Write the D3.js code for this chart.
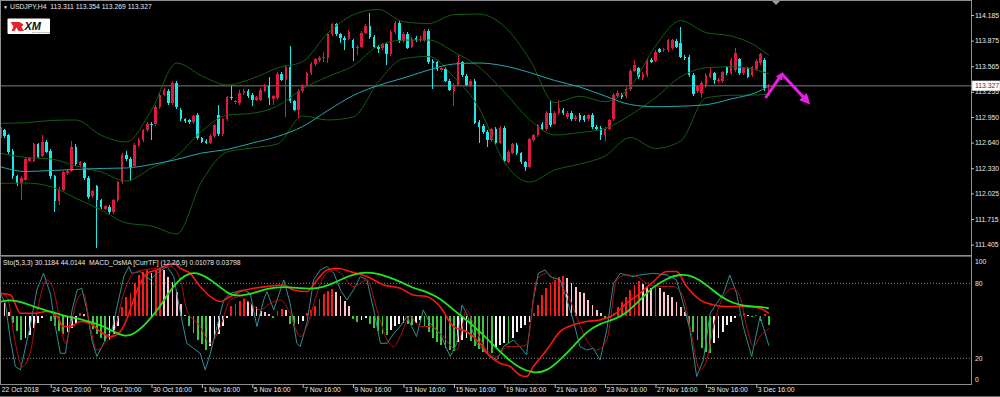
<!DOCTYPE html>
<html>
<head>
<meta charset="utf-8">
<script src="https://cdn.jsdelivr.net/npm/d3@7"></script>
<style>
  html, body { margin: 0; padding: 0; background: #000; }
  svg { display: block; }
  text { font-family: "Liberation Sans", Arial, sans-serif; font-size: 6.8px; fill: #e8e8e8; }
</style>
</head>
<body>
<svg id="chart" width="1000" height="397"></svg>
<script>
// USDJPY H4 candles, [open, high, low, close]
const ohlc = [
  [112.69,112.86,112.67,112.83],[112.79,112.81,112.70,112.72],[112.73,112.75,112.50,112.53],[112.54,112.56,112.20,112.23],
  [112.23,112.25,112.12,112.15],[112.15,112.23,111.95,112.21],[112.19,112.46,112.17,112.44],[112.42,112.47,112.40,112.45],
  [112.42,112.64,112.41,112.62],[112.62,112.64,112.45,112.47],[112.48,112.73,112.46,112.65],[112.65,112.67,112.51,112.53],
  [112.54,112.56,112.20,112.23],[112.23,112.25,111.80,111.93],[111.93,112.10,111.88,112.07],[112.07,112.30,112.05,112.28],
  [112.27,112.32,112.25,112.30],[112.30,112.66,112.28,112.59],[112.59,112.62,112.36,112.38],[112.37,112.42,112.35,112.40],
  [112.39,112.41,112.19,112.21],[112.21,112.23,111.96,111.98],[111.99,112.07,111.97,112.05],[112.11,112.13,111.36,111.94],
  [111.94,111.96,111.83,111.86],[111.84,111.89,111.82,111.87],[111.86,111.88,111.78,111.80],[111.80,111.96,111.78,111.94],
  [111.94,112.18,111.92,112.16],[112.16,112.52,112.14,112.49],[112.49,112.54,112.42,112.44],[112.44,112.46,112.18,112.35],
  [112.36,112.63,112.34,112.61],[112.61,112.69,112.59,112.67],[112.67,112.81,112.65,112.79],[112.79,112.89,112.77,112.87],
  [112.87,112.89,112.67,112.85],[112.86,113.09,112.84,113.07],[113.07,113.24,113.05,113.22],[113.22,113.30,113.20,113.28],
  [113.27,113.29,113.10,113.12],[113.12,113.38,113.10,113.36],[113.36,113.38,113.05,113.07],[113.04,113.06,112.90,112.92],
  [112.92,112.94,112.88,112.90],[112.91,112.93,112.87,112.89],[112.89,112.98,112.87,112.96],[112.98,113.00,112.67,112.69],
  [112.69,112.71,112.63,112.65],[112.66,112.68,112.62,112.64],[112.64,112.74,112.62,112.72],[112.72,112.87,112.70,112.85],
  [112.97,113.10,112.72,112.74],[112.74,112.94,112.72,112.92],[112.92,113.21,112.90,113.19],[113.19,113.32,113.16,113.18],
  [113.13,113.16,113.11,113.14],[113.12,113.28,113.10,113.24],[113.24,113.29,113.22,113.27],[113.26,113.29,113.18,113.20],
  [113.22,113.24,113.08,113.16],[113.16,113.21,113.14,113.19],[113.16,113.30,113.14,113.28],[113.27,113.35,113.25,113.33],
  [113.33,113.44,113.10,113.18],[113.17,113.22,113.10,113.20],[113.18,113.49,113.16,113.47],[113.47,113.49,113.38,113.40],
  [113.40,113.58,112.95,113.56],[113.55,113.81,113.12,113.14],[113.14,113.16,113.02,113.04],[113.04,113.29,112.93,113.27],
  [113.26,113.35,113.24,113.33],[113.33,113.50,113.31,113.48],[113.48,113.61,113.46,113.59],[113.59,113.67,113.57,113.65],
  [113.64,113.69,113.62,113.67],[113.67,113.74,113.62,113.68],[113.67,113.97,113.60,113.95],[113.95,114.09,113.93,114.07],
  [114.07,114.09,113.93,113.95],[113.95,113.97,113.85,113.91],[113.91,113.93,113.76,113.88],[113.90,114.00,113.88,113.98],
  [113.88,113.90,113.63,113.78],[113.78,113.82,113.70,113.80],[113.80,113.99,113.78,113.97],[113.97,114.07,113.95,114.05],
  [114.05,114.21,113.90,113.92],[113.92,113.94,113.78,113.80],[113.80,113.82,113.72,113.77],[113.78,113.85,113.76,113.83],
  [113.83,113.85,113.58,113.71],[113.71,114.00,113.69,113.98],[113.98,114.11,113.96,114.09],[114.09,114.13,113.85,113.87],
  [113.87,113.98,113.85,113.96],[113.96,113.98,113.77,113.79],[113.80,113.92,113.78,113.90],[113.91,113.93,113.86,113.88],
  [113.88,113.93,113.86,113.90],[113.88,114.01,113.86,113.99],[113.99,114.01,113.59,113.61],[113.63,113.65,113.29,113.60],
  [113.61,113.63,113.51,113.53],[113.52,113.56,113.50,113.54],[113.53,113.55,113.37,113.39],[113.39,113.41,113.26,113.28],
  [113.27,113.36,113.08,113.34],[113.34,113.70,113.32,113.61],[113.61,113.63,113.44,113.46],[113.45,113.47,113.32,113.34],
  [113.33,113.41,113.31,113.39],[113.39,113.41,112.86,112.88],[112.89,112.91,112.63,112.83],[112.84,112.86,112.75,112.77],
  [112.77,112.79,112.59,112.67],[112.67,112.82,112.65,112.80],[112.81,112.83,112.62,112.64],[112.64,112.84,112.62,112.82],
  [112.82,112.84,112.40,112.42],[112.41,112.55,112.39,112.53],[112.52,112.64,112.50,112.62],[112.61,112.63,112.49,112.51],
  [112.51,112.53,112.38,112.40],[112.40,112.42,112.30,112.35],[112.35,112.70,112.33,112.68],[112.67,112.75,112.65,112.73],
  [112.73,112.87,112.71,112.85],[112.86,112.89,112.79,112.81],[112.80,113.02,112.78,113.00],[113.00,113.14,112.83,112.85],
  [112.87,113.02,112.85,113.00],[113.00,113.16,112.98,113.06],[113.04,113.06,112.98,113.00],[112.95,113.02,112.93,113.00],
  [113.00,113.02,112.90,112.92],[112.92,112.97,112.90,112.95],[112.98,113.00,112.89,112.91],[112.96,112.98,112.89,112.91],
  [112.92,112.99,112.90,112.97],[112.98,113.00,112.81,112.83],[112.83,112.85,112.79,112.81],[112.82,112.84,112.67,112.73],
  [112.73,112.83,112.66,112.81],[112.81,112.93,112.79,112.91],[112.92,113.24,112.90,113.22],[113.20,113.28,113.18,113.24],
  [113.22,113.24,113.17,113.19],[113.20,113.31,113.18,113.29],[113.29,113.53,113.27,113.51],[113.51,113.64,113.49,113.58],
  [113.54,113.56,113.41,113.43],[113.42,113.49,113.40,113.47],[113.46,113.65,113.44,113.63],[113.64,113.66,113.60,113.62],
  [113.63,113.76,113.61,113.74],[113.77,113.79,113.72,113.74],[113.76,113.79,113.74,113.77],[113.76,113.90,113.74,113.88],
  [113.78,113.90,113.76,113.88],[113.87,113.89,113.78,113.80],[113.84,114.04,113.66,113.68],[113.68,113.70,113.64,113.66],
  [113.68,113.70,113.44,113.46],[113.46,113.48,113.21,113.23],[113.26,113.34,113.24,113.32],[113.24,113.38,113.18,113.36],
  [113.32,113.48,113.30,113.46],[113.44,113.55,113.42,113.48],[113.48,113.50,113.35,113.40],[113.38,113.42,113.36,113.40],
  [113.38,113.51,113.36,113.49],[113.55,113.57,113.46,113.48],[113.48,113.66,113.46,113.64],[113.52,113.78,113.50,113.72],
  [113.65,113.67,113.46,113.48],[113.48,113.56,113.46,113.54],[113.54,113.56,113.42,113.44],[113.46,113.57,113.44,113.55],
  [113.53,113.65,113.51,113.63],[113.60,113.73,113.58,113.71],[113.64,113.66,113.27,113.30],[113.311,113.354,113.269,113.327]
];

// moving average and bollinger bands, read every 6 bars
const sampleBars = [0,6,12,18,24,30,36,42,48,54,60,66,72,78,84,90,96,102,108,114,120,126,132,138,144,150,156,162,168,174,180,183];
const ma = [112.348,112.290,112.302,112.315,112.327,112.333,112.375,112.436,112.514,112.557,112.635,112.714,112.835,113.029,113.210,113.332,
  113.422,113.519,113.592,113.604,113.568,113.489,113.392,113.313,113.204,113.101,113.075,113.081,113.098,113.168,113.247,113.325];
const bbUpper = [112.874,112.880,112.908,112.914,112.729,112.647,113.035,113.604,113.447,113.338,113.416,113.543,113.621,113.967,114.187,114.252,
  114.104,114.082,114.189,114.196,114.046,113.652,113.124,113.201,113.135,113.317,113.811,114.116,113.972,113.931,113.806,113.695];
const bbMiddle = [112.511,112.460,112.442,112.357,112.284,112.175,112.333,112.478,112.781,112.974,112.995,113.083,113.292,113.440,113.568,113.812,
  113.881,113.882,113.738,113.555,113.253,112.920,112.732,112.762,112.810,112.974,113.183,113.438,113.545,113.559,113.519,113.471];
const bbLower = [112.147,112.151,112.107,111.966,111.824,111.667,111.630,111.534,112.175,112.526,112.575,112.623,112.962,112.914,112.950,113.374,
  113.658,113.683,113.434,113.059,112.405,112.163,112.308,112.381,112.478,112.702,112.569,112.660,113.180,113.213,113.216,113.229];

const priceTicks = [114.185,113.875,113.565,113.255,112.950,112.640,112.330,112.025,111.715,111.405];
const currentPrice = 113.327;

const xLabels = ["22 Oct 2018","24 Oct 20:00","26 Oct 20:00","30 Oct 16:00","1 Nov 16:00","5 Nov 16:00","7 Nov 16:00","9 Nov 16:00",
  "13 Nov 16:00","15 Nov 16:00","19 Nov 16:00","21 Nov 16:00","23 Nov 16:00","27 Nov 16:00","29 Nov 16:00","3 Dec 16:00"];
const xLabelBars = [0,12,24,36,48,60,72,84,96,108,120,132,144,156,168,180];

// MACD OsMA histogram, one value per bar
const osma = [0.017,0.013,0.004,-0.007,-0.015,-0.024,-0.022,-0.019,-0.012,-0.007,
  -0.002,0.001,-0.005,-0.010,-0.015,-0.018,-0.016,-0.012,-0.007,0.003,
  0.002,-0.008,-0.013,-0.018,-0.022,-0.025,-0.024,-0.018,-0.010,0.009,
  0.019,0.023,0.033,0.041,0.044,0.046,0.043,0.045,0.048,0.046,
  0.039,0.034,0.024,0.012,0.001,-0.010,-0.017,-0.024,-0.028,-0.034,
  -0.030,-0.022,-0.018,-0.010,-0.002,0.010,0.012,0.015,0.017,0.015,
  0.012,0.009,0.005,0.004,0.002,-0.002,0.005,0.007,0.006,-0.008,
  -0.010,-0.008,-0.005,0.003,0.006,0.010,0.017,0.022,0.025,0.027,
  0.024,0.020,0.015,0.010,-0.003,-0.006,-0.004,-0.002,-0.008,-0.012,
  -0.015,-0.018,-0.019,-0.014,-0.010,-0.008,-0.007,-0.008,-0.009,-0.007,
  -0.004,-0.011,-0.016,-0.022,-0.026,-0.029,-0.032,-0.034,-0.035,-0.026,
  -0.024,-0.022,-0.025,-0.030,-0.033,-0.036,-0.037,-0.037,-0.032,-0.029,
  -0.027,-0.027,-0.022,-0.016,-0.012,-0.009,-0.006,0.003,0.011,0.021,
  0.028,0.033,0.036,0.039,0.040,0.038,0.033,0.029,0.024,0.023,
  0.016,0.011,0.006,0.003,-0.002,-0.002,0.003,0.009,0.014,0.019,
  0.026,0.031,0.035,0.032,0.029,0.028,0.029,0.028,0.024,0.021,
  0.019,0.014,0.009,0.004,-0.009,-0.016,-0.024,-0.032,-0.036,-0.037,
  -0.027,-0.022,-0.016,-0.009,-0.006,-0.002,0.002,0.003,0.001,-0.001,
  0.001,-0.005,0.002,-0.009];

// stochastic main / signal and the two slow lines, [bar, value 0-100]
const stoMain = [[0,72],[1.2,64],[2.4,34.7],[3.6,13.4],[4.8,10.7],[7.1,45.4],[8.7,74.7],[10.3,88],[11.9,72],[13.1,45.4],[14.3,24],[15.5,24],
  [17.1,58.7],[18.3,74.7],[19.4,76],[20.6,58.7],[21.8,34.7],[23,21.4],[25.4,37.4],[26.6,42.7],[27.8,61.4],[29.4,85.4],[30.6,93.4],[31.3,88],
  [33.3,89.4],[35.7,82.7],[37.3,88],[39.7,93.4],[41.3,85.4],[42.9,56],[44.4,32],[46,28],[47.6,24],[48.8,10.7],[50,24],[51.6,45.4],[53.2,66.7],
  [54.8,72],[56.3,73.4],[57.9,74.7],[59.5,72],[61.1,45.4],[62.7,66.7],[63.5,73.4],[65.1,58.7],[67.5,82.7],[69,64],[70.6,32],[71.4,29.4],[73,48],
  [74.6,82.7],[76.2,90.7],[77.8,93.4],[79.4,88],[81,74.7],[82.5,66.7],[84.1,74.7],[85.7,85.4],[87.3,82.7],[88.9,58.7],[90.5,32],[92.1,32],
  [93.7,40],[95.2,45.4],[96.8,53.4],[99.1,37.4],[100.7,58.7],[102.3,48],[104.7,40],[107.1,21.4],[108.7,32],[109.9,62.7],[111,56],[113.4,32],
  [115.8,24],[118.2,18.7],[119.8,29.4],[122.2,34.7],[123.7,29.4],[125.3,22.7],[126.9,66.7],[128.1,88],[129.7,90.7],[130.9,85.4],[133.3,82.7],
  [134.9,66.7],[136.4,50.7],[138,29.4],[139.6,26.7],[141.2,28],[142.8,18.7],[144.4,42.7],[146,80],[147.6,88],[149.1,86.7],[150.7,85.4],
  [152.3,86.7],[155.5,88],[158.7,86.7],[161,82.7],[162.6,64],[164.2,42.7],[165.8,5.4],[167.4,18.7],[169,56],[170.6,64],[172.2,72],[173.7,86.7],
  [175.3,72],[176.9,45.4],[178.9,21.4],[180.9,53.4],[183,30.1]];
const stoSignal = [[0,72],[1.6,69.4],[3.6,32],[5.2,13.4],[7.1,24],[8.7,56],[11.1,82.7],[12.7,74.7],[14.3,48],[15.5,32],[16.7,45.4],[18.3,66.7],
  [19.8,72],[21.4,45.4],[23,26.7],[25,32],[27,40],[29.4,72],[31.7,88],[34.1,90.7],[37.3,92],[40.5,93.4],[42.9,82.7],[44.4,58.7],[47.6,45.4],
  [50,32],[52.4,45.4],[54.8,66.7],[57.1,69.4],[59.5,64],[61.9,58.7],[64.3,64],[66.7,66.7],[69,56],[71.4,37.4],[73,45.4],[75.4,72],[77,85.4],
  [79.4,90.7],[81,88],[84.1,77.4],[87.3,82.7],[89.7,58.7],[92.1,34.7],[93.7,29.4],[95.2,37.4],[97.6,53.4],[99.9,45.4],[102.3,45.4],[104.7,40],
  [108.7,26.7],[111,58.7],[112.6,48],[115.8,26.7],[118.2,21.4],[120.6,29.4],[123,29.4],[125.3,30.7],[127.7,82.7],[130.1,88],[132.5,80],
  [134.9,72],[137.2,53.4],[139.6,34.7],[142,26.7],[144.4,34.7],[146.8,82.7],[149.1,86.7],[151.5,85.4],[153.9,80],[157.1,77.4],[160.2,77.4],
  [162.6,69.4],[164.2,45.4],[166.6,10.7],[168.2,18.7],[169.8,45.4],[172.2,69.4],[174.5,76],[176.1,69.4],[177.7,45.4],[179.3,29.4],[180.9,37.4],
  [183,44]];
const redLine = [[0,72],[2.4,70.7],[4.8,56],[7.9,56],[11.1,57.4],[13.5,53.4],[15.1,45.4],[16.7,45.4],[19,49.4],[21.4,48],[23.8,41.4],[26.2,37.4],
  [28.2,40],[30.2,52],[31.7,66.7],[33.3,80],[34.9,88],[37.3,90.7],[39.7,94.7],[41.3,96],[42.9,92],[45.2,88],[47.6,77.4],[50,69.4],[52.4,65.4],
  [54.8,69.4],[57.1,73.4],[60.3,76],[63.5,77.4],[67.5,78.7],[69.8,74.7],[73,73.4],[75.4,82.7],[77.8,90.7],[80.2,92],[83.3,89.4],[87.3,85.4],
  [91.3,78.7],[95.2,76],[98.3,70.7],[101.5,69.4],[104.7,61.4],[107.9,45.4],[111,41.4],[114.2,32],[116.6,21.4],[119,16],[121.4,13.4],
  [123.7,6.7],[125.3,5.4],[126.9,13.4],[130.1,26.7],[133.3,41.4],[136.4,46.7],[139.6,49.4],[142.8,50.7],[146,54.7],[149.1,64],[152.3,72],
  [155.5,81.4],[158.7,89.4],[161,89.4],[163.4,77.4],[166.6,66.7],[169.8,62.7],[173,61.4],[177.7,61.4],[180.9,60],[183,56]];
const greenLine = [[0,65.4],[2.4,66.7],[4.8,65.4],[7.9,61.4],[11.9,57.4],[15.9,53.4],[19.8,50.7],[23.8,46.7],[27,41.4],[29.4,37.4],[31.7,38.7],
  [34.9,48],[38.1,61.4],[40.5,74.7],[42.9,84],[45.2,88.6],[47.6,88],[50.8,81.4],[54,72],[56.3,69.4],[60.3,72],[63.5,76],[67.5,77.4],[71.4,76],
  [75.4,75.2],[79.4,80],[82.5,85.4],[85.7,88.6],[88.9,88.6],[92.1,85.4],[95.2,81.4],[98.3,76],[101.5,73.4],[104.7,68],[107.9,58.7],[111,50.7],
  [114.2,41.4],[117.4,30.7],[120.6,20],[123.7,12],[126.9,8],[130.1,9.4],[133.3,18.7],[136.4,29.4],[139.6,41.4],[142.8,48],[146,50.7],
  [149.1,56],[152.3,66.7],[155.5,77.4],[158.7,84],[161.8,87.5],[165,85.9],[168.2,78.7],[171.4,69.4],[174.5,64],[177.7,61.4],[180.9,61.4],[183,60]];
const stoLevels = [80, 20];
const stoTicks = [100, 80, 20, 0];

// hand drawn forecast arrows, [bar, price]
const arrowUp = [[182.2,113.18],[186.1,113.47]];
const arrowDown = [[186.1,113.47],[192.3,113.13]];

const svg = d3.select("#chart");
const plotRight = 971;
const mainBottom = 255, subTop = 256, subBottom = 384;

const x = d3.scaleLinear().domain([0, 180]).range([0.3, 756.3]);
const yPrice = d3.scaleLinear().domain([111.405, 114.185]).range([244.6, 15]);
const ySto = d3.scaleLinear().domain([0, 100]).range([383.3, 258.3]);
const yOsma = d3.scaleLinear().domain([0, 0.05]).range([316, 266]);

const defs = svg.append("defs");
defs.append("clipPath").attr("id", "clipMain").append("rect")
    .attr("x", 0).attr("y", 1).attr("width", plotRight).attr("height", mainBottom - 1);
defs.append("clipPath").attr("id", "clipSub").append("rect")
    .attr("x", 0).attr("y", subTop).attr("width", plotRight).attr("height", subBottom - subTop);

[["headSmall", 2.6], ["headBig", 3.6]].forEach(([id, size]) => {
    defs.append("marker").attr("id", id)
        .attr("viewBox", "0 0 10 10").attr("refX", 7).attr("refY", 5)
        .attr("markerWidth", size).attr("markerHeight", size)
        .attr("orient", "auto")
        .append("path").attr("d", "M0,0 L10,5 L0,10 z").attr("fill", "#e81ee8");
});

// ---- main panel ----
const main = svg.append("g").attr("clip-path", "url(#clipMain)");

main.append("line")
    .attr("x1", 0).attr("x2", plotRight)
    .attr("y1", yPrice(currentPrice)).attr("y2", yPrice(currentPrice))
    .attr("stroke", "#7d7d7d").attr("stroke-width", 1);

const candle = main.selectAll(".candle")
    .data(ohlc)
    .enter()
    .append("g")
    .attr("class", "candle")
    .attr("shape-rendering", "crispEdges")
    .attr("fill", d => d[3] >= d[0] ? "#dc1a43" : "#1ee8e8")
    .attr("stroke", d => d[3] >= d[0] ? "#dc1a43" : "#1ee8e8");

candle.append("line")
    .attr("x1", (d, i) => x(i)).attr("x2", (d, i) => x(i))
    .attr("y1", d => yPrice(d[1])).attr("y2", d => yPrice(d[2]))
    .attr("stroke-width", 1);

candle.append("rect")
    .attr("x", (d, i) => x(i) - 1.3)
    .attr("width", 2.6)
    .attr("y", d => yPrice(Math.max(d[0], d[3])))
    .attr("height", d => Math.max(1, Math.abs(yPrice(d[0]) - yPrice(d[3]))))
    .attr("stroke", "none");

const priceLine = series => d3.line()
    .x((d, i) => x(sampleBars[i]))
    .y(d => yPrice(d))
    .curve(d3.curveMonotoneX)(series);

[bbUpper, bbMiddle, bbLower].forEach(band => {
    main.append("path").attr("d", priceLine(band))
        .attr("fill", "none").attr("stroke", "#135e13").attr("stroke-width", 1);
});
main.append("path").attr("d", priceLine(ma))
    .attr("fill", "none").attr("stroke", "#23a9b0").attr("stroke-width", 1);

const arrowLine = d3.line().x(d => x(d[0])).y(d => yPrice(d[1]));
main.append("path").attr("d", arrowLine(arrowUp))
    .attr("stroke", "#e81ee8").attr("stroke-width", 3).attr("fill", "none")
    .attr("marker-end", "url(#headSmall)");
main.append("path").attr("d", arrowLine(arrowDown))
    .attr("stroke", "#e81ee8").attr("stroke-width", 3).attr("fill", "none")
    .attr("marker-end", "url(#headBig)");

// ---- indicator panel ----
const sub = svg.append("g").attr("clip-path", "url(#clipSub)");

sub.selectAll(".level")
    .data(stoLevels)
    .enter()
    .append("line")
    .attr("class", "level")
    .attr("x1", 0).attr("x2", plotRight)
    .attr("y1", d => ySto(d)).attr("y2", d => ySto(d))
    .attr("stroke", "#8a8a8a").attr("stroke-width", 1)
    .attr("stroke-dasharray", "1,2");

const osmaColor = (v, i) => {
    const prev = i > 0 ? osma[i - 1] : 0;
    if (v >= 0) return v >= prev ? "#ff1a1a" : "#ffc4cc";
    return v <= prev ? "#3cc83c" : "#f4f4f4";
};

sub.selectAll(".osma")
    .data(osma)
    .enter()
    .append("rect")
    .attr("class", "osma")
    .attr("shape-rendering", "crispEdges")
    .attr("x", (d, i) => x(i) - 0.9)
    .attr("width", 1.8)
    .attr("y", d => Math.min(yOsma(d), yOsma(0)))
    .attr("height", d => Math.abs(yOsma(d) - yOsma(0)))
    .attr("fill", (d, i) => osmaColor(d, i));

const stoLine = (pts, curve) => d3.line()
    .x(d => x(d[0])).y(d => ySto(d[1]))
    .curve(curve)(pts);

sub.append("path").attr("d", stoLine(stoMain, d3.curveLinear))
    .attr("fill", "none").attr("stroke", "#2f8f92").attr("stroke-width", 1);
sub.append("path").attr("d", stoLine(stoSignal, d3.curveMonotoneX))
    .attr("fill", "none").attr("stroke", "#b01212").attr("stroke-width", 1);
sub.append("path").attr("d", stoLine(redLine, d3.curveMonotoneX))
    .attr("fill", "none").attr("stroke", "#ff1414").attr("stroke-width", 1.6);
sub.append("path").attr("d", stoLine(greenLine, d3.curveBasis))
    .attr("fill", "none").attr("stroke", "#22e622").attr("stroke-width", 1.8);

// ---- frames ----
const frame = svg.append("g").attr("stroke", "#8e8e8e").attr("stroke-width", 1).attr("shape-rendering", "crispEdges");
frame.append("line").attr("x1", 0.5).attr("x2", 0.5).attr("y1", 0).attr("y2", subBottom);
frame.append("line").attr("x1", 0).attr("x2", plotRight).attr("y1", 0.5).attr("y2", 0.5);
frame.append("line").attr("x1", plotRight + 0.5).attr("x2", plotRight + 0.5).attr("y1", 0).attr("y2", subBottom);
frame.append("line").attr("x1", 0).attr("x2", plotRight).attr("y1", mainBottom + 0.5).attr("y2", mainBottom + 0.5);
frame.append("line").attr("x1", 0).attr("x2", plotRight).attr("y1", subTop + 0.5).attr("y2", subTop + 0.5).attr("stroke", "#5a5a5a");
frame.append("line").attr("x1", 0).attr("x2", plotRight + 1).attr("y1", subBottom + 0.5).attr("y2", subBottom + 0.5);
frame.append("line").attr("x1", 0).attr("x2", 1000).attr("y1", 396.5).attr("y2", 396.5).attr("stroke", "#6a6a6a");

// chart shift marker
svg.append("path").attr("d", "M772,1 L780,1 L776,5 Z").attr("fill", "#9a9a9a");

// ---- axes ----
const priceAxis = svg.append("g")
    .attr("transform", `translate(${plotRight},0)`)
    .call(d3.axisRight(yPrice).tickValues(priceTicks).tickSize(3).tickPadding(1).tickFormat(d3.format(".3f")));
priceAxis.select(".domain").remove();
priceAxis.selectAll("line").attr("stroke", "#bdbdbd");
priceAxis.selectAll("text").attr("fill", "#e8e8e8").style("font-size", "6.8px")
    .style("font-family", "'Liberation Sans', Arial, sans-serif");

const priceTag = svg.append("g").attr("transform", `translate(${plotRight + 1},${yPrice(currentPrice)})`);
priceTag.append("rect").attr("x", 0).attr("y", -5).attr("width", 28).attr("height", 10)
    .attr("fill", "#ffffff").attr("stroke", "#9a9a9a").attr("stroke-width", 0.5);
priceTag.append("text").attr("x", 3).attr("y", 2.5).style("fill", "#333333")
    .text(d3.format(".3f")(currentPrice));

svg.selectAll(".stoTick")
    .data(stoTicks)
    .enter()
    .append("text")
    .attr("class", "stoTick")
    .attr("x", plotRight + 4)
    .attr("y", d => Math.min(Math.max(ySto(d), 262), 380) + 2.4)
    .text(d => d);

const timeAxis = svg.append("g")
    .attr("transform", `translate(0,${subBottom})`)
    .call(d3.axisBottom(x).tickValues(xLabelBars).tickSize(4).tickFormat((d, i) => xLabels[i]));
timeAxis.select(".domain").remove();
timeAxis.selectAll("line").attr("stroke", "#bdbdbd").attr("opacity", (d, i) => i === 0 ? 0 : 1);
timeAxis.selectAll("text")
    .attr("text-anchor", "start").attr("x", 1).attr("y", 3)
    .attr("fill", "#e8e8e8").style("font-size", "6.8px")
    .style("font-family", "'Liberation Sans', Arial, sans-serif");

// ---- titles ----
const last = ohlc[ohlc.length - 1];
const f3 = d3.format(".3f");
svg.append("text").attr("x", 3).attr("y", 8.5).style("font-size", "5px").text("▼");
svg.append("text").attr("x", 10).attr("y", 8.5).style("white-space", "pre")
    .text(`USDJPY,H4  ${f3(last[0])} ${f3(last[1])} ${f3(last[2])} ${f3(last[3])}`);
svg.append("text").attr("x", 3).attr("y", 265).style("white-space", "pre")
    .text("Sto(5,3,3) 30.1184 44.0144  MACD_OsMA [CurrTF] (12,26,9) 0.01078 0.03798");

// XM logo
const logo = svg.append("g").attr("transform", "translate(7.5,18.5)");
logo.append("rect").attr("width", 42.5).attr("height", 15.5).attr("rx", 1).attr("fill", "#ffffff");
logo.append("path").attr("d", "M3,3.5 L12,3.5 L16,6 L14,8.5 L16.5,12.5 L11,12.5 L9,9 L7,12.5 L4,12.5 L6,8 Z").attr("fill", "#e3232c");
logo.append("text").attr("x", 17).attr("y", 11)
    .style("fill", "#111111").style("font-size", "11px").style("font-weight", "bold").style("font-style", "italic")
    .text("XM");
logo.append("text").attr("x", 24).attr("y", 14.3)
    .style("fill", "#555555").style("font-size", "2.4px")
    .text("TRADING POINT");
</script>
</body>
</html>
